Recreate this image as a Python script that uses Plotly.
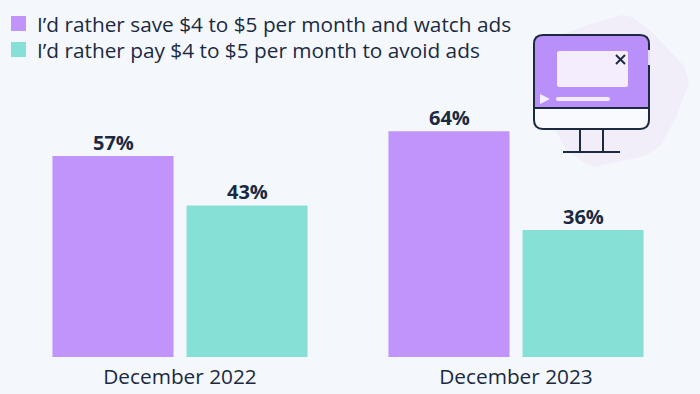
import plotly.graph_objects as go

categories = ["December 2022", "December 2023"]
series_names = ["I’d rather save $4 to $5 per month and watch ads",
                "I’d rather pay $4 to $5 per month to avoid ads"]
save_values = [57, 64]
pay_values = [43, 36]

W, H = 700, 394
BG = "#f4f8fc"
PURPLE = "#c194fc"
TEAL = "#87e0d6"
INK = "#1b2a41"
FONT = "Open Sans"


def px(x):
    return x / W


def py(y):
    return 1 - y / H


def path(points):
    return "M" + "L".join(f"{px(x):.5f},{py(y):.5f}" for x, y in points) + "Z"


def rrect(x0, y0, x1, y1, top_r, bottom_r):
    def P(x, y):
        return f"{px(x):.5f},{py(y):.5f}"
    s = "M" + P(x0, y1 - bottom_r) + "L" + P(x0, y0 + top_r)
    s += "Q" + P(x0, y0) + " " + P(x0 + top_r, y0) + "L" + P(x1 - top_r, y0)
    s += "Q" + P(x1, y0) + " " + P(x1, y0 + top_r) + "L" + P(x1, y1 - bottom_r)
    if bottom_r:
        s += "Q" + P(x1, y1) + " " + P(x1 - bottom_r, y1) + "L" + P(x0 + bottom_r, y1)
        s += "Q" + P(x0, y1) + " " + P(x0, y1 - bottom_r)
    else:
        s += "L" + P(x0, y1)
    return s + "Z"


def shape(d, fill="rgba(0,0,0,0)", line=None, width=2):
    return dict(type="path", xref="paper", yref="paper", path=d, fillcolor=fill,
                line=dict(color=line or "rgba(0,0,0,0)", width=width if line else 0),
                layer="above")


def seg(x0, y0, x1, y1, color=INK, width=2):
    return dict(type="line", xref="paper", yref="paper", x0=px(x0), y0=py(y0), x1=px(x1), y1=py(y1),
                line=dict(color=color, width=width), layer="above")


shapes = [
    # legend swatches
    shape(path([(11, 16), (26, 16), (26, 31), (11, 31)]), fill=PURPLE),
    shape(path([(11, 42), (26, 42), (26, 57), (11, 57)]), fill=TEAL),
    # backdrop blob
    shape(path([(556, 37), (590, 24), (622, 15), (632, 17), (650, 30), (684, 66), (689, 82),
                (676, 118), (660, 146), (645, 156), (594, 167), (585, 163), (566, 150), (545, 110)]),
          fill="#f1eefa"),
    # monitor body
    shape(rrect(534, 35, 649, 129, 9, 9), fill="#f8fafe"),
    shape(rrect(534, 35, 649, 108, 9, 0), fill="#b98ffa"),
    shape(rrect(534, 35, 649, 129, 9, 9), line=INK, width=2),
    seg(534, 108, 649, 108),
    seg(649, 50, 649, 65, color="#e6dbfb", width=2),
    # stand
    seg(580, 129, 580, 152),
    seg(603, 129, 603, 152),
    seg(563, 152, 620, 152),
    # video panel
    shape(rrect(557, 51, 628, 87, 2, 2), fill="#f3edfd"),
    seg(616, 55, 625, 64),
    seg(625, 55, 616, 64),
    shape(path([(540, 94), (550, 99), (540, 104)]), fill="#f3edfd"),
    shape(rrect(556, 97, 610, 101, 2, 2), fill="#f3edfd"),
]

annotations = []
for name, row_y in zip(series_names, [24, 50]):
    annotations.append(dict(text=name, xref="paper", yref="paper", x=px(34.5), y=py(row_y),
                            xanchor="left", yanchor="middle", showarrow=False,
                            font=dict(family=FONT, size=20.8, color=INK)))

fig = go.Figure()
for name, vals, color, shift in [(series_names[0], save_values, PURPLE, -67),
                                 (series_names[1], pay_values, TEAL, 67)]:
    fig.add_trace(go.Bar(name=name, x=categories, y=vals,
                         marker=dict(color=color, line=dict(width=0))))
    for cat, v in zip(categories, vals):
        annotations.append(dict(text=f"{v}%", x=cat, y=v, xref="x", yref="y",
                                xshift=shift, yshift=-2, xanchor="center", yanchor="bottom",
                                showarrow=False,
                                font=dict(family=FONT, size=20, color=INK, weight=700)))

fig.update_layout(
    width=W, height=H, paper_bgcolor=BG, plot_bgcolor=BG,
    margin=dict(l=0, r=0, t=0, b=0, pad=0),
    barmode="group", bargap=0.202, bargroupgap=0.097,
    font=dict(family=FONT, color=INK),
    showlegend=False,
    xaxis=dict(domain=[12 / W, 684 / W], range=[-0.5, 1.5], showgrid=False, zeroline=False,
               showline=False, ticks="", ticklabelstandoff=5,
               tickfont=dict(family=FONT, size=20.8, color=INK)),
    yaxis=dict(domain=[37 / H, 1], range=[0, 101.25], visible=False),
    shapes=shapes,
    annotations=annotations,
)

fig.write_html("out.html", config={"displayModeBar": False},
               post_script="document.body.style.margin='0';document.documentElement.style.background='%s';" % BG)
